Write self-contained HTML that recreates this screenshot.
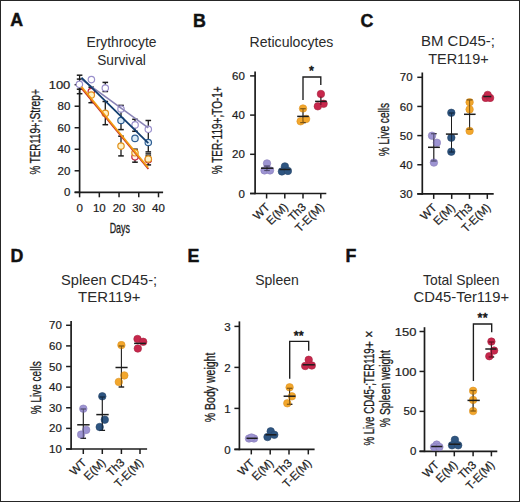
<!DOCTYPE html>
<html><head><meta charset="utf-8"><style>
html,body{margin:0;padding:0;background:#fff;}
body{width:520px;height:502px;overflow:hidden;}
svg{display:block;}
text{font-family:"Liberation Sans",sans-serif;fill:#1c1c1c;}
.h{stroke:#1c1c1c;stroke-width:0.3px;}
.l{stroke:#1c1c1c;stroke-width:0.22px;}
.s{stroke:#1c1c1c;stroke-width:0.6px;}
.b{stroke:#111;stroke-width:0.45px;fill:#111;}
.t{fill:#2a2a2a;}
</style></head><body>
<svg width="520" height="502" viewBox="0 0 520 502">
<rect x="0" y="0" width="520" height="502" fill="#fff"/>
<text x="10.20" y="25.70" font-size="17.8" text-anchor="start" font-weight="bold" class="b">A</text>
<text x="192.90" y="27.20" font-size="17.8" text-anchor="start" font-weight="bold" class="b">B</text>
<text x="360.40" y="27.20" font-size="17.8" text-anchor="start" font-weight="bold" class="b">C</text>
<text x="10.50" y="262.30" font-size="17.8" text-anchor="start" font-weight="bold" class="b">D</text>
<text x="187.50" y="262.30" font-size="17.8" text-anchor="start" font-weight="bold" class="b">E</text>
<text x="345.50" y="262.30" font-size="17.8" text-anchor="start" font-weight="bold" class="b">F</text>
<text x="121.50" y="46.70" font-size="14.2" text-anchor="middle" font-weight="normal" textLength="70" lengthAdjust="spacingAndGlyphs" class="t">Erythrocyte</text>
<text x="121.50" y="64.50" font-size="14.2" text-anchor="middle" font-weight="normal" textLength="48.7" lengthAdjust="spacingAndGlyphs" class="t">Survival</text>
<text x="291.45" y="46.70" font-size="14.2" text-anchor="middle" font-weight="normal" textLength="83.7" lengthAdjust="spacingAndGlyphs" class="t">Reticulocytes</text>
<text x="458.00" y="46.20" font-size="14.2" text-anchor="middle" font-weight="normal" textLength="74" lengthAdjust="spacingAndGlyphs" class="t">BM CD45-;</text>
<text x="458.40" y="63.50" font-size="14.2" text-anchor="middle" font-weight="normal" textLength="60.5" lengthAdjust="spacingAndGlyphs" class="t">TER119+</text>
<text x="109.10" y="284.70" font-size="14.2" text-anchor="middle" font-weight="normal" textLength="96" lengthAdjust="spacingAndGlyphs" class="t">Spleen CD45-;</text>
<text x="109.25" y="302.00" font-size="14.2" text-anchor="middle" font-weight="normal" textLength="62.3" lengthAdjust="spacingAndGlyphs" class="t">TER119+</text>
<text x="277.00" y="284.50" font-size="14.2" text-anchor="middle" font-weight="normal" textLength="43.6" lengthAdjust="spacingAndGlyphs" class="t">Spleen</text>
<text x="461.30" y="284.50" font-size="14.2" text-anchor="middle" font-weight="normal" textLength="76.6" lengthAdjust="spacingAndGlyphs" class="t">Total Spleen</text>
<text x="461.30" y="302.30" font-size="14.2" text-anchor="middle" font-weight="normal" textLength="95.6" lengthAdjust="spacingAndGlyphs" class="t">CD45-Ter119+</text>
<text class="h" transform="translate(40.1,174.4) rotate(-90)" x="0" y="0" font-size="14.3" text-anchor="start" textLength="46.2" lengthAdjust="spacingAndGlyphs">% TER119</text>
<text class="h" transform="translate(40.1,128.4) rotate(-90)" x="0" y="0" font-size="14.3" text-anchor="start" textLength="39.4" lengthAdjust="spacingAndGlyphs">+;Strep+</text>
<text class="h" transform="translate(222,130.3) rotate(-90)" x="0" y="0" font-size="14.3" text-anchor="middle" textLength="88" lengthAdjust="spacingAndGlyphs">% TER-119+;TO-1+</text>
<text class="h" transform="translate(389,129.6) rotate(-90)" x="0" y="0" font-size="14.3" text-anchor="middle" textLength="53.4" lengthAdjust="spacingAndGlyphs">% Live cells</text>
<text class="h" transform="translate(40.5,387.8) rotate(-90)" x="0" y="0" font-size="14.3" text-anchor="middle" textLength="52.9" lengthAdjust="spacingAndGlyphs">% Live cells</text>
<text class="h" transform="translate(215.4,387.4) rotate(-90)" x="0" y="0" font-size="14.3" text-anchor="middle" textLength="69.5" lengthAdjust="spacingAndGlyphs">% Body weight</text>
<text class="h" transform="translate(373.5,445.6) rotate(-90)" x="0" y="0" font-size="14.3" text-anchor="start" textLength="97.3" lengthAdjust="spacingAndGlyphs">% Live CD45-;TER119</text>
<text class="h" transform="translate(373.5,348.2) rotate(-90)" x="0" y="0" font-size="14.3" text-anchor="start" textLength="17.6" lengthAdjust="spacingAndGlyphs">+ ×</text>
<text class="h" transform="translate(390.3,388.6) rotate(-90)" x="0" y="0" font-size="14.3" text-anchor="middle" textLength="77.2" lengthAdjust="spacingAndGlyphs">% Spleen weight</text>
<line x1="79.60" y1="84.70" x2="79.60" y2="193.15" stroke="#1c1c1c" stroke-width="1.7" stroke-linecap="butt"/>
<line x1="74.60" y1="192.30" x2="163.10" y2="192.30" stroke="#1c1c1c" stroke-width="1.7" stroke-linecap="butt"/>
<line x1="74.60" y1="192.30" x2="79.60" y2="192.30" stroke="#1c1c1c" stroke-width="1.5" stroke-linecap="butt"/>
<text x="70.30" y="196.40" font-size="11.5" text-anchor="end" font-weight="normal" class="l">0</text>
<line x1="74.60" y1="170.78" x2="79.60" y2="170.78" stroke="#1c1c1c" stroke-width="1.5" stroke-linecap="butt"/>
<text x="70.30" y="174.88" font-size="11.5" text-anchor="end" font-weight="normal" class="l">20</text>
<line x1="74.60" y1="149.26" x2="79.60" y2="149.26" stroke="#1c1c1c" stroke-width="1.5" stroke-linecap="butt"/>
<text x="70.30" y="153.36" font-size="11.5" text-anchor="end" font-weight="normal" class="l">40</text>
<line x1="74.60" y1="127.74" x2="79.60" y2="127.74" stroke="#1c1c1c" stroke-width="1.5" stroke-linecap="butt"/>
<text x="70.30" y="131.84" font-size="11.5" text-anchor="end" font-weight="normal" class="l">60</text>
<line x1="74.60" y1="106.22" x2="79.60" y2="106.22" stroke="#1c1c1c" stroke-width="1.5" stroke-linecap="butt"/>
<text x="70.30" y="110.32" font-size="11.5" text-anchor="end" font-weight="normal" class="l">80</text>
<line x1="74.60" y1="84.70" x2="79.60" y2="84.70" stroke="#1c1c1c" stroke-width="1.5" stroke-linecap="butt"/>
<text x="70.30" y="88.80" font-size="11.5" text-anchor="end" font-weight="normal" textLength="21.6" lengthAdjust="spacingAndGlyphs" class="l">100</text>
<line x1="79.60" y1="192.30" x2="79.60" y2="197.30" stroke="#1c1c1c" stroke-width="1.5" stroke-linecap="butt"/>
<line x1="99.32" y1="192.30" x2="99.32" y2="197.30" stroke="#1c1c1c" stroke-width="1.5" stroke-linecap="butt"/>
<line x1="119.05" y1="192.30" x2="119.05" y2="197.30" stroke="#1c1c1c" stroke-width="1.5" stroke-linecap="butt"/>
<line x1="138.77" y1="192.30" x2="138.77" y2="197.30" stroke="#1c1c1c" stroke-width="1.5" stroke-linecap="butt"/>
<line x1="158.50" y1="192.30" x2="158.50" y2="197.30" stroke="#1c1c1c" stroke-width="1.5" stroke-linecap="butt"/>
<text x="79.60" y="212.20" font-size="11.5" text-anchor="middle" font-weight="normal" class="l">0</text>
<text x="99.32" y="212.20" font-size="11.5" text-anchor="middle" font-weight="normal" class="l">10</text>
<text x="119.05" y="212.20" font-size="11.5" text-anchor="middle" font-weight="normal" class="l">20</text>
<text x="138.77" y="212.20" font-size="11.5" text-anchor="middle" font-weight="normal" class="l">30</text>
<text x="158.50" y="212.20" font-size="11.5" text-anchor="middle" font-weight="normal" class="l">40</text>
<text class="h" transform="translate(119.8,232.6) scale(0.62,1)" font-size="14.4" text-anchor="middle">Days</text>
<line x1="79.60" y1="75.20" x2="79.60" y2="93.70" stroke="#1c1c1c" stroke-width="1.3" stroke-linecap="butt"/>
<line x1="76.80" y1="75.20" x2="82.40" y2="75.20" stroke="#1c1c1c" stroke-width="1.5" stroke-linecap="butt"/>
<line x1="76.80" y1="93.70" x2="82.40" y2="93.70" stroke="#1c1c1c" stroke-width="1.5" stroke-linecap="butt"/>
<line x1="76.80" y1="79.10" x2="82.40" y2="79.10" stroke="#1c1c1c" stroke-width="1.5" stroke-linecap="butt"/>
<line x1="76.80" y1="89.20" x2="82.40" y2="89.20" stroke="#1c1c1c" stroke-width="1.5" stroke-linecap="butt"/>
<line x1="91.20" y1="87.20" x2="91.20" y2="102.70" stroke="#1c1c1c" stroke-width="1.3" stroke-linecap="butt"/>
<line x1="88.40" y1="87.20" x2="94.00" y2="87.20" stroke="#1c1c1c" stroke-width="1.5" stroke-linecap="butt"/>
<line x1="88.40" y1="102.70" x2="94.00" y2="102.70" stroke="#1c1c1c" stroke-width="1.5" stroke-linecap="butt"/>
<line x1="105.30" y1="82.40" x2="105.30" y2="91.50" stroke="#1c1c1c" stroke-width="1.3" stroke-linecap="butt"/>
<line x1="102.50" y1="82.40" x2="108.10" y2="82.40" stroke="#1c1c1c" stroke-width="1.5" stroke-linecap="butt"/>
<line x1="102.50" y1="91.50" x2="108.10" y2="91.50" stroke="#1c1c1c" stroke-width="1.5" stroke-linecap="butt"/>
<line x1="105.30" y1="101.50" x2="105.30" y2="124.70" stroke="#1c1c1c" stroke-width="1.3" stroke-linecap="butt"/>
<line x1="102.50" y1="101.50" x2="108.10" y2="101.50" stroke="#1c1c1c" stroke-width="1.5" stroke-linecap="butt"/>
<line x1="102.50" y1="124.70" x2="108.10" y2="124.70" stroke="#1c1c1c" stroke-width="1.5" stroke-linecap="butt"/>
<line x1="121.00" y1="105.40" x2="121.00" y2="129.60" stroke="#1c1c1c" stroke-width="1.3" stroke-linecap="butt"/>
<line x1="118.20" y1="105.40" x2="123.80" y2="105.40" stroke="#1c1c1c" stroke-width="1.5" stroke-linecap="butt"/>
<line x1="118.20" y1="129.60" x2="123.80" y2="129.60" stroke="#1c1c1c" stroke-width="1.5" stroke-linecap="butt"/>
<line x1="121.00" y1="136.20" x2="121.00" y2="155.90" stroke="#1c1c1c" stroke-width="1.3" stroke-linecap="butt"/>
<line x1="118.20" y1="136.20" x2="123.80" y2="136.20" stroke="#1c1c1c" stroke-width="1.5" stroke-linecap="butt"/>
<line x1="118.20" y1="155.90" x2="123.80" y2="155.90" stroke="#1c1c1c" stroke-width="1.5" stroke-linecap="butt"/>
<line x1="135.00" y1="119.30" x2="135.00" y2="131.30" stroke="#1c1c1c" stroke-width="1.3" stroke-linecap="butt"/>
<line x1="132.20" y1="119.30" x2="137.80" y2="119.30" stroke="#1c1c1c" stroke-width="1.5" stroke-linecap="butt"/>
<line x1="132.20" y1="131.30" x2="137.80" y2="131.30" stroke="#1c1c1c" stroke-width="1.5" stroke-linecap="butt"/>
<line x1="135.00" y1="149.20" x2="135.00" y2="162.20" stroke="#1c1c1c" stroke-width="1.3" stroke-linecap="butt"/>
<line x1="132.20" y1="149.20" x2="137.80" y2="149.20" stroke="#1c1c1c" stroke-width="1.5" stroke-linecap="butt"/>
<line x1="132.20" y1="162.20" x2="137.80" y2="162.20" stroke="#1c1c1c" stroke-width="1.5" stroke-linecap="butt"/>
<line x1="148.30" y1="120.50" x2="148.30" y2="151.90" stroke="#1c1c1c" stroke-width="1.3" stroke-linecap="butt"/>
<line x1="145.50" y1="120.50" x2="151.10" y2="120.50" stroke="#1c1c1c" stroke-width="1.5" stroke-linecap="butt"/>
<line x1="145.50" y1="151.90" x2="151.10" y2="151.90" stroke="#1c1c1c" stroke-width="1.5" stroke-linecap="butt"/>
<line x1="145.50" y1="153.90" x2="151.10" y2="153.90" stroke="#1c1c1c" stroke-width="1.5" stroke-linecap="butt"/>
<line x1="148.30" y1="155.90" x2="148.30" y2="164.90" stroke="#1c1c1c" stroke-width="1.3" stroke-linecap="butt"/>
<line x1="145.50" y1="155.90" x2="151.10" y2="155.90" stroke="#1c1c1c" stroke-width="1.5" stroke-linecap="butt"/>
<line x1="145.50" y1="164.90" x2="151.10" y2="164.90" stroke="#1c1c1c" stroke-width="1.5" stroke-linecap="butt"/>
<circle cx="79.40" cy="84.30" r="3.2" fill="#ffffff" stroke="#9a90cc" stroke-width="1.2"/>
<circle cx="91.30" cy="91.50" r="3.2" fill="#fff4f0" stroke="#c02040" stroke-width="1.2"/>
<circle cx="91.30" cy="95.00" r="3.2" fill="#fff2c8" stroke="#e0901c" stroke-width="1.2"/>
<circle cx="91.40" cy="79.60" r="3.2" fill="#ffffff" stroke="#9a90cc" stroke-width="1.2"/>
<circle cx="105.30" cy="88.00" r="3.2" fill="#ffffff" stroke="#9a90cc" stroke-width="1.2"/>
<circle cx="105.30" cy="113.40" r="3.2" fill="#fff2c8" stroke="#e0901c" stroke-width="1.2"/>
<circle cx="121.00" cy="109.00" r="3.2" fill="#ffffff" stroke="#9a90cc" stroke-width="1.2"/>
<circle cx="121.00" cy="120.50" r="3.2" fill="#dcecf8" stroke="#2e5e92" stroke-width="1.2"/>
<circle cx="121.00" cy="146.10" r="3.2" fill="#fff2c8" stroke="#e0901c" stroke-width="1.2"/>
<circle cx="135.00" cy="156.80" r="3.2" fill="#fff4f0" stroke="#c02040" stroke-width="1.2"/>
<circle cx="135.00" cy="152.80" r="3.2" fill="#fff2c8" stroke="#e0901c" stroke-width="1.2"/>
<circle cx="135.10" cy="124.90" r="3.2" fill="#ffffff" stroke="#9a90cc" stroke-width="1.2"/>
<circle cx="135.00" cy="138.40" r="3.2" fill="#dcecf8" stroke="#2e5e92" stroke-width="1.2"/>
<circle cx="148.30" cy="159.80" r="3.2" fill="#fff4f0" stroke="#c02040" stroke-width="1.2"/>
<circle cx="148.30" cy="159.00" r="3.2" fill="#fff2c8" stroke="#e0901c" stroke-width="1.2"/>
<circle cx="148.30" cy="129.30" r="3.2" fill="#ffffff" stroke="#9a90cc" stroke-width="1.2"/>
<circle cx="148.30" cy="142.50" r="3.2" fill="#dcecf8" stroke="#2e5e92" stroke-width="1.2"/>
<line x1="81.50" y1="88.20" x2="148.40" y2="169.00" stroke="#c8302a" stroke-width="1.7" stroke-linecap="butt"/>
<line x1="81.50" y1="86.70" x2="148.00" y2="167.50" stroke="#f29c10" stroke-width="1.8" stroke-linecap="butt"/>
<line x1="81.50" y1="79.30" x2="148.30" y2="127.80" stroke="#8a84b6" stroke-width="1.6" stroke-linecap="butt"/>
<line x1="81.50" y1="77.60" x2="148.30" y2="143.20" stroke="#123e70" stroke-width="1.8" stroke-linecap="butt"/>
<line x1="255.10" y1="71.50" x2="255.10" y2="194.35" stroke="#1c1c1c" stroke-width="1.7" stroke-linecap="butt"/>
<line x1="250.10" y1="193.50" x2="326.30" y2="193.50" stroke="#1c1c1c" stroke-width="1.7" stroke-linecap="butt"/>
<line x1="250.10" y1="193.50" x2="255.10" y2="193.50" stroke="#1c1c1c" stroke-width="1.5" stroke-linecap="butt"/>
<text x="244.80" y="197.60" font-size="11.5" text-anchor="end" font-weight="normal" class="l">0</text>
<line x1="250.10" y1="154.30" x2="255.10" y2="154.30" stroke="#1c1c1c" stroke-width="1.5" stroke-linecap="butt"/>
<text x="244.80" y="158.40" font-size="11.5" text-anchor="end" font-weight="normal" class="l">20</text>
<line x1="250.10" y1="115.10" x2="255.10" y2="115.10" stroke="#1c1c1c" stroke-width="1.5" stroke-linecap="butt"/>
<text x="244.80" y="119.20" font-size="11.5" text-anchor="end" font-weight="normal" class="l">40</text>
<line x1="250.10" y1="75.90" x2="255.10" y2="75.90" stroke="#1c1c1c" stroke-width="1.5" stroke-linecap="butt"/>
<text x="244.80" y="80.00" font-size="11.5" text-anchor="end" font-weight="normal" class="l">60</text>
<line x1="266.60" y1="193.50" x2="266.60" y2="198.50" stroke="#1c1c1c" stroke-width="1.5" stroke-linecap="butt"/>
<line x1="284.80" y1="193.50" x2="284.80" y2="198.50" stroke="#1c1c1c" stroke-width="1.5" stroke-linecap="butt"/>
<line x1="303.00" y1="193.50" x2="303.00" y2="198.50" stroke="#1c1c1c" stroke-width="1.5" stroke-linecap="butt"/>
<line x1="320.80" y1="193.50" x2="320.80" y2="198.50" stroke="#1c1c1c" stroke-width="1.5" stroke-linecap="butt"/>
<text class="l" transform="translate(270.50,207.80) rotate(-45)" font-size="11.5" text-anchor="end">WT</text>
<text class="l" transform="translate(288.70,207.80) rotate(-45)" font-size="11.5" text-anchor="end">E(M)</text>
<text class="l" transform="translate(306.90,207.80) rotate(-45)" font-size="11.5" text-anchor="end">Th3</text>
<text class="l" transform="translate(324.70,207.80) rotate(-45)" font-size="11.5" text-anchor="end">T-E(M)</text>
<g opacity="1">
<line x1="267.00" y1="166.00" x2="267.00" y2="170.50" stroke="#1c1c1c" stroke-width="1.0" stroke-linecap="butt"/>
<line x1="264.25" y1="166.00" x2="269.75" y2="166.00" stroke="#1c1c1c" stroke-width="1.2" stroke-linecap="butt"/>
<line x1="264.25" y1="170.50" x2="269.75" y2="170.50" stroke="#1c1c1c" stroke-width="1.2" stroke-linecap="butt"/>
</g>
<g opacity="0.88">
<circle cx="267.00" cy="163.40" r="3.75" fill="#9086cc" stroke="#7a6cb0" stroke-width="0.6"/>
<circle cx="264.50" cy="170.40" r="3.75" fill="#9086cc" stroke="#7a6cb0" stroke-width="0.6"/>
<circle cx="270.00" cy="170.40" r="3.75" fill="#9086cc" stroke="#7a6cb0" stroke-width="0.6"/>
</g>
<g opacity="0.45">
<line x1="267.00" y1="166.00" x2="267.00" y2="170.50" stroke="#1c1c1c" stroke-width="1.0" stroke-linecap="butt"/>
<line x1="264.25" y1="166.00" x2="269.75" y2="166.00" stroke="#1c1c1c" stroke-width="1.2" stroke-linecap="butt"/>
<line x1="264.25" y1="170.50" x2="269.75" y2="170.50" stroke="#1c1c1c" stroke-width="1.2" stroke-linecap="butt"/>
</g>
<line x1="261.00" y1="168.20" x2="273.40" y2="168.20" stroke="#1c1c1c" stroke-width="1.5" stroke-linecap="butt"/>
<g opacity="0.88">
<circle cx="284.90" cy="166.40" r="3.75" fill="#123e70" stroke="#0c2f58" stroke-width="0.6"/>
<circle cx="281.90" cy="171.40" r="3.75" fill="#123e70" stroke="#0c2f58" stroke-width="0.6"/>
<circle cx="287.90" cy="170.90" r="3.75" fill="#123e70" stroke="#0c2f58" stroke-width="0.6"/>
</g>
<line x1="279.50" y1="169.50" x2="290.50" y2="169.50" stroke="#1c1c1c" stroke-width="1.5" stroke-linecap="butt"/>
<g opacity="1">
<line x1="303.00" y1="108.70" x2="303.00" y2="122.60" stroke="#1c1c1c" stroke-width="1.0" stroke-linecap="butt"/>
<line x1="300.25" y1="108.70" x2="305.75" y2="108.70" stroke="#1c1c1c" stroke-width="1.2" stroke-linecap="butt"/>
<line x1="300.25" y1="122.60" x2="305.75" y2="122.60" stroke="#1c1c1c" stroke-width="1.2" stroke-linecap="butt"/>
</g>
<g opacity="0.88">
<circle cx="303.00" cy="108.50" r="3.75" fill="#f29c10" stroke="#d88406" stroke-width="0.6"/>
<circle cx="300.60" cy="121.30" r="3.75" fill="#f29c10" stroke="#d88406" stroke-width="0.6"/>
<circle cx="306.10" cy="118.90" r="3.75" fill="#f29c10" stroke="#d88406" stroke-width="0.6"/>
</g>
<g opacity="0.45">
<line x1="303.00" y1="108.70" x2="303.00" y2="122.60" stroke="#1c1c1c" stroke-width="1.0" stroke-linecap="butt"/>
<line x1="300.25" y1="108.70" x2="305.75" y2="108.70" stroke="#1c1c1c" stroke-width="1.2" stroke-linecap="butt"/>
<line x1="300.25" y1="122.60" x2="305.75" y2="122.60" stroke="#1c1c1c" stroke-width="1.2" stroke-linecap="butt"/>
</g>
<line x1="297.20" y1="116.40" x2="308.80" y2="116.40" stroke="#1c1c1c" stroke-width="1.5" stroke-linecap="butt"/>
<g opacity="1">
<line x1="320.90" y1="96.50" x2="320.90" y2="105.00" stroke="#1c1c1c" stroke-width="1.0" stroke-linecap="butt"/>
</g>
<g opacity="0.88">
<circle cx="320.90" cy="94.00" r="3.75" fill="#c00a34" stroke="#9c0828" stroke-width="0.6"/>
<circle cx="317.80" cy="106.30" r="3.75" fill="#c00a34" stroke="#9c0828" stroke-width="0.6"/>
<circle cx="323.60" cy="103.80" r="3.75" fill="#c00a34" stroke="#9c0828" stroke-width="0.6"/>
</g>
<g opacity="0.45">
<line x1="320.90" y1="96.50" x2="320.90" y2="105.00" stroke="#1c1c1c" stroke-width="1.0" stroke-linecap="butt"/>
</g>
<line x1="315.10" y1="101.40" x2="326.70" y2="101.40" stroke="#1c1c1c" stroke-width="1.5" stroke-linecap="butt"/>
<polyline points="303,100 303,77 320.8,77 320.8,85" fill="none" stroke="#1c1c1c" stroke-width="1.35"/>
<text x="311.50" y="75.10" font-size="12.6" text-anchor="middle" font-weight="normal" class="s">*</text>
<line x1="422.30" y1="72.50" x2="422.30" y2="194.75" stroke="#1c1c1c" stroke-width="1.7" stroke-linecap="butt"/>
<line x1="417.30" y1="193.90" x2="493.70" y2="193.90" stroke="#1c1c1c" stroke-width="1.7" stroke-linecap="butt"/>
<line x1="417.30" y1="193.90" x2="422.30" y2="193.90" stroke="#1c1c1c" stroke-width="1.5" stroke-linecap="butt"/>
<text x="412.60" y="198.00" font-size="11.5" text-anchor="end" font-weight="normal" class="l">30</text>
<line x1="417.30" y1="164.75" x2="422.30" y2="164.75" stroke="#1c1c1c" stroke-width="1.5" stroke-linecap="butt"/>
<text x="412.60" y="168.85" font-size="11.5" text-anchor="end" font-weight="normal" class="l">40</text>
<line x1="417.30" y1="135.60" x2="422.30" y2="135.60" stroke="#1c1c1c" stroke-width="1.5" stroke-linecap="butt"/>
<text x="412.60" y="139.70" font-size="11.5" text-anchor="end" font-weight="normal" class="l">50</text>
<line x1="417.30" y1="106.45" x2="422.30" y2="106.45" stroke="#1c1c1c" stroke-width="1.5" stroke-linecap="butt"/>
<text x="412.60" y="110.55" font-size="11.5" text-anchor="end" font-weight="normal" class="l">60</text>
<line x1="417.30" y1="77.30" x2="422.30" y2="77.30" stroke="#1c1c1c" stroke-width="1.5" stroke-linecap="butt"/>
<text x="412.60" y="81.40" font-size="11.5" text-anchor="end" font-weight="normal" class="l">70</text>
<line x1="433.70" y1="193.90" x2="433.70" y2="198.90" stroke="#1c1c1c" stroke-width="1.5" stroke-linecap="butt"/>
<line x1="451.70" y1="193.90" x2="451.70" y2="198.90" stroke="#1c1c1c" stroke-width="1.5" stroke-linecap="butt"/>
<line x1="469.50" y1="193.90" x2="469.50" y2="198.90" stroke="#1c1c1c" stroke-width="1.5" stroke-linecap="butt"/>
<line x1="487.30" y1="193.90" x2="487.30" y2="198.90" stroke="#1c1c1c" stroke-width="1.5" stroke-linecap="butt"/>
<text class="l" transform="translate(437.60,208.20) rotate(-45)" font-size="11.5" text-anchor="end">WT</text>
<text class="l" transform="translate(455.60,208.20) rotate(-45)" font-size="11.5" text-anchor="end">E(M)</text>
<text class="l" transform="translate(473.40,208.20) rotate(-45)" font-size="11.5" text-anchor="end">Th3</text>
<text class="l" transform="translate(491.20,208.20) rotate(-45)" font-size="11.5" text-anchor="end">T-E(M)</text>
<g opacity="1">
<line x1="433.80" y1="133.70" x2="433.80" y2="161.00" stroke="#1c1c1c" stroke-width="1.0" stroke-linecap="butt"/>
<line x1="431.05" y1="133.70" x2="436.55" y2="133.70" stroke="#1c1c1c" stroke-width="1.2" stroke-linecap="butt"/>
<line x1="431.05" y1="161.00" x2="436.55" y2="161.00" stroke="#1c1c1c" stroke-width="1.2" stroke-linecap="butt"/>
</g>
<g opacity="0.88">
<circle cx="432.00" cy="135.70" r="3.75" fill="#9086cc" stroke="#7a6cb0" stroke-width="0.6"/>
<circle cx="436.90" cy="142.70" r="3.75" fill="#9086cc" stroke="#7a6cb0" stroke-width="0.6"/>
<circle cx="433.90" cy="162.60" r="3.75" fill="#9086cc" stroke="#7a6cb0" stroke-width="0.6"/>
</g>
<g opacity="0.45">
<line x1="433.80" y1="133.70" x2="433.80" y2="161.00" stroke="#1c1c1c" stroke-width="1.0" stroke-linecap="butt"/>
<line x1="431.05" y1="133.70" x2="436.55" y2="133.70" stroke="#1c1c1c" stroke-width="1.2" stroke-linecap="butt"/>
<line x1="431.05" y1="161.00" x2="436.55" y2="161.00" stroke="#1c1c1c" stroke-width="1.2" stroke-linecap="butt"/>
</g>
<line x1="428.00" y1="147.30" x2="439.90" y2="147.30" stroke="#1c1c1c" stroke-width="1.5" stroke-linecap="butt"/>
<g opacity="1">
<line x1="451.50" y1="113.00" x2="451.50" y2="152.00" stroke="#1c1c1c" stroke-width="1.0" stroke-linecap="butt"/>
<line x1="448.75" y1="113.00" x2="454.25" y2="113.00" stroke="#1c1c1c" stroke-width="1.2" stroke-linecap="butt"/>
<line x1="448.75" y1="152.00" x2="454.25" y2="152.00" stroke="#1c1c1c" stroke-width="1.2" stroke-linecap="butt"/>
</g>
<g opacity="0.88">
<circle cx="451.30" cy="112.80" r="3.75" fill="#123e70" stroke="#0c2f58" stroke-width="0.6"/>
<circle cx="451.30" cy="137.70" r="3.75" fill="#123e70" stroke="#0c2f58" stroke-width="0.6"/>
<circle cx="451.30" cy="151.70" r="3.75" fill="#123e70" stroke="#0c2f58" stroke-width="0.6"/>
</g>
<g opacity="0.45">
<line x1="451.50" y1="113.00" x2="451.50" y2="152.00" stroke="#1c1c1c" stroke-width="1.0" stroke-linecap="butt"/>
<line x1="448.75" y1="113.00" x2="454.25" y2="113.00" stroke="#1c1c1c" stroke-width="1.2" stroke-linecap="butt"/>
<line x1="448.75" y1="152.00" x2="454.25" y2="152.00" stroke="#1c1c1c" stroke-width="1.2" stroke-linecap="butt"/>
</g>
<line x1="445.90" y1="134.10" x2="457.80" y2="134.10" stroke="#1c1c1c" stroke-width="1.5" stroke-linecap="butt"/>
<g opacity="1">
<line x1="469.60" y1="99.90" x2="469.60" y2="129.30" stroke="#1c1c1c" stroke-width="1.0" stroke-linecap="butt"/>
<line x1="466.85" y1="99.90" x2="472.35" y2="99.90" stroke="#1c1c1c" stroke-width="1.2" stroke-linecap="butt"/>
<line x1="466.85" y1="129.30" x2="472.35" y2="129.30" stroke="#1c1c1c" stroke-width="1.2" stroke-linecap="butt"/>
</g>
<g opacity="0.88">
<circle cx="469.60" cy="102.20" r="3.75" fill="#f29c10" stroke="#d88406" stroke-width="0.6"/>
<circle cx="469.60" cy="109.40" r="3.75" fill="#f29c10" stroke="#d88406" stroke-width="0.6"/>
<circle cx="469.60" cy="130.90" r="3.75" fill="#f29c10" stroke="#d88406" stroke-width="0.6"/>
</g>
<g opacity="0.45">
<line x1="469.60" y1="99.90" x2="469.60" y2="129.30" stroke="#1c1c1c" stroke-width="1.0" stroke-linecap="butt"/>
<line x1="466.85" y1="99.90" x2="472.35" y2="99.90" stroke="#1c1c1c" stroke-width="1.2" stroke-linecap="butt"/>
<line x1="466.85" y1="129.30" x2="472.35" y2="129.30" stroke="#1c1c1c" stroke-width="1.2" stroke-linecap="butt"/>
</g>
<line x1="464.00" y1="114.30" x2="475.60" y2="114.30" stroke="#1c1c1c" stroke-width="1.5" stroke-linecap="butt"/>
<g opacity="0.88">
<circle cx="485.70" cy="97.90" r="3.75" fill="#c00a34" stroke="#9c0828" stroke-width="0.6"/>
<circle cx="490.10" cy="97.90" r="3.75" fill="#c00a34" stroke="#9c0828" stroke-width="0.6"/>
<circle cx="487.70" cy="94.90" r="3.75" fill="#c00a34" stroke="#9c0828" stroke-width="0.6"/>
</g>
<line x1="483.30" y1="96.50" x2="491.30" y2="96.50" stroke="#1c1c1c" stroke-width="1.5" stroke-linecap="butt"/>
<line x1="71.10" y1="320.90" x2="71.10" y2="449.85" stroke="#1c1c1c" stroke-width="1.7" stroke-linecap="butt"/>
<line x1="66.10" y1="449.00" x2="147.10" y2="449.00" stroke="#1c1c1c" stroke-width="1.7" stroke-linecap="butt"/>
<line x1="66.10" y1="449.00" x2="71.10" y2="449.00" stroke="#1c1c1c" stroke-width="1.5" stroke-linecap="butt"/>
<text x="61.90" y="453.10" font-size="11.5" text-anchor="end" font-weight="normal" class="l">10</text>
<line x1="66.10" y1="428.38" x2="71.10" y2="428.38" stroke="#1c1c1c" stroke-width="1.5" stroke-linecap="butt"/>
<text x="61.90" y="432.48" font-size="11.5" text-anchor="end" font-weight="normal" class="l">20</text>
<line x1="66.10" y1="407.76" x2="71.10" y2="407.76" stroke="#1c1c1c" stroke-width="1.5" stroke-linecap="butt"/>
<text x="61.90" y="411.86" font-size="11.5" text-anchor="end" font-weight="normal" class="l">30</text>
<line x1="66.10" y1="387.14" x2="71.10" y2="387.14" stroke="#1c1c1c" stroke-width="1.5" stroke-linecap="butt"/>
<text x="61.90" y="391.24" font-size="11.5" text-anchor="end" font-weight="normal" class="l">40</text>
<line x1="66.10" y1="366.52" x2="71.10" y2="366.52" stroke="#1c1c1c" stroke-width="1.5" stroke-linecap="butt"/>
<text x="61.90" y="370.62" font-size="11.5" text-anchor="end" font-weight="normal" class="l">50</text>
<line x1="66.10" y1="345.90" x2="71.10" y2="345.90" stroke="#1c1c1c" stroke-width="1.5" stroke-linecap="butt"/>
<text x="61.90" y="350.00" font-size="11.5" text-anchor="end" font-weight="normal" class="l">60</text>
<line x1="66.10" y1="325.28" x2="71.10" y2="325.28" stroke="#1c1c1c" stroke-width="1.5" stroke-linecap="butt"/>
<text x="61.90" y="329.38" font-size="11.5" text-anchor="end" font-weight="normal" class="l">70</text>
<line x1="83.30" y1="449.00" x2="83.30" y2="454.00" stroke="#1c1c1c" stroke-width="1.5" stroke-linecap="butt"/>
<line x1="102.30" y1="449.00" x2="102.30" y2="454.00" stroke="#1c1c1c" stroke-width="1.5" stroke-linecap="butt"/>
<line x1="121.40" y1="449.00" x2="121.40" y2="454.00" stroke="#1c1c1c" stroke-width="1.5" stroke-linecap="butt"/>
<line x1="140.00" y1="449.00" x2="140.00" y2="454.00" stroke="#1c1c1c" stroke-width="1.5" stroke-linecap="butt"/>
<text class="l" transform="translate(87.20,463.30) rotate(-45)" font-size="11.5" text-anchor="end">WT</text>
<text class="l" transform="translate(106.20,463.30) rotate(-45)" font-size="11.5" text-anchor="end">E(M)</text>
<text class="l" transform="translate(125.30,463.30) rotate(-45)" font-size="11.5" text-anchor="end">Th3</text>
<text class="l" transform="translate(143.90,463.30) rotate(-45)" font-size="11.5" text-anchor="end">T-E(M)</text>
<g opacity="1">
<line x1="83.30" y1="409.00" x2="83.30" y2="438.30" stroke="#1c1c1c" stroke-width="1.0" stroke-linecap="butt"/>
<line x1="80.55" y1="409.00" x2="86.05" y2="409.00" stroke="#1c1c1c" stroke-width="1.2" stroke-linecap="butt"/>
<line x1="80.55" y1="438.30" x2="86.05" y2="438.30" stroke="#1c1c1c" stroke-width="1.2" stroke-linecap="butt"/>
</g>
<g opacity="0.88">
<circle cx="83.30" cy="408.70" r="3.75" fill="#9086cc" stroke="#7a6cb0" stroke-width="0.6"/>
<circle cx="86.20" cy="429.90" r="3.75" fill="#9086cc" stroke="#7a6cb0" stroke-width="0.6"/>
<circle cx="81.10" cy="434.60" r="3.75" fill="#9086cc" stroke="#7a6cb0" stroke-width="0.6"/>
</g>
<g opacity="0.45">
<line x1="83.30" y1="409.00" x2="83.30" y2="438.30" stroke="#1c1c1c" stroke-width="1.0" stroke-linecap="butt"/>
<line x1="80.55" y1="409.00" x2="86.05" y2="409.00" stroke="#1c1c1c" stroke-width="1.2" stroke-linecap="butt"/>
<line x1="80.55" y1="438.30" x2="86.05" y2="438.30" stroke="#1c1c1c" stroke-width="1.2" stroke-linecap="butt"/>
</g>
<line x1="77.20" y1="424.80" x2="89.60" y2="424.80" stroke="#1c1c1c" stroke-width="1.5" stroke-linecap="butt"/>
<g opacity="1">
<line x1="102.30" y1="397.00" x2="102.30" y2="430.40" stroke="#1c1c1c" stroke-width="1.0" stroke-linecap="butt"/>
<line x1="99.55" y1="397.00" x2="105.05" y2="397.00" stroke="#1c1c1c" stroke-width="1.2" stroke-linecap="butt"/>
<line x1="99.55" y1="430.40" x2="105.05" y2="430.40" stroke="#1c1c1c" stroke-width="1.2" stroke-linecap="butt"/>
</g>
<g opacity="0.88">
<circle cx="102.30" cy="396.30" r="3.75" fill="#123e70" stroke="#0c2f58" stroke-width="0.6"/>
<circle cx="104.80" cy="419.70" r="3.75" fill="#123e70" stroke="#0c2f58" stroke-width="0.6"/>
<circle cx="99.70" cy="427.00" r="3.75" fill="#123e70" stroke="#0c2f58" stroke-width="0.6"/>
</g>
<g opacity="0.45">
<line x1="102.30" y1="397.00" x2="102.30" y2="430.40" stroke="#1c1c1c" stroke-width="1.0" stroke-linecap="butt"/>
<line x1="99.55" y1="397.00" x2="105.05" y2="397.00" stroke="#1c1c1c" stroke-width="1.2" stroke-linecap="butt"/>
<line x1="99.55" y1="430.40" x2="105.05" y2="430.40" stroke="#1c1c1c" stroke-width="1.2" stroke-linecap="butt"/>
</g>
<line x1="96.30" y1="414.60" x2="108.70" y2="414.60" stroke="#1c1c1c" stroke-width="1.5" stroke-linecap="butt"/>
<g opacity="1">
<line x1="121.40" y1="346.00" x2="121.40" y2="387.00" stroke="#1c1c1c" stroke-width="1.0" stroke-linecap="butt"/>
<line x1="118.65" y1="346.00" x2="124.15" y2="346.00" stroke="#1c1c1c" stroke-width="1.2" stroke-linecap="butt"/>
<line x1="118.65" y1="387.00" x2="124.15" y2="387.00" stroke="#1c1c1c" stroke-width="1.2" stroke-linecap="butt"/>
</g>
<g opacity="0.88">
<circle cx="121.40" cy="345.10" r="3.75" fill="#f29c10" stroke="#d88406" stroke-width="0.6"/>
<circle cx="124.30" cy="375.40" r="3.75" fill="#f29c10" stroke="#d88406" stroke-width="0.6"/>
<circle cx="118.80" cy="381.90" r="3.75" fill="#f29c10" stroke="#d88406" stroke-width="0.6"/>
</g>
<g opacity="0.45">
<line x1="121.40" y1="346.00" x2="121.40" y2="387.00" stroke="#1c1c1c" stroke-width="1.0" stroke-linecap="butt"/>
<line x1="118.65" y1="346.00" x2="124.15" y2="346.00" stroke="#1c1c1c" stroke-width="1.2" stroke-linecap="butt"/>
<line x1="118.65" y1="387.00" x2="124.15" y2="387.00" stroke="#1c1c1c" stroke-width="1.2" stroke-linecap="butt"/>
</g>
<line x1="115.50" y1="367.50" x2="127.60" y2="367.50" stroke="#1c1c1c" stroke-width="1.5" stroke-linecap="butt"/>
<g opacity="0.88">
<circle cx="137.50" cy="339.00" r="3.75" fill="#c00a34" stroke="#9c0828" stroke-width="0.6"/>
<circle cx="143.20" cy="341.80" r="3.75" fill="#c00a34" stroke="#9c0828" stroke-width="0.6"/>
<circle cx="137.80" cy="348.50" r="3.75" fill="#c00a34" stroke="#9c0828" stroke-width="0.6"/>
</g>
<line x1="134.10" y1="343.40" x2="145.90" y2="343.40" stroke="#1c1c1c" stroke-width="1.5" stroke-linecap="butt"/>
<line x1="239.40" y1="321.40" x2="239.40" y2="450.25" stroke="#1c1c1c" stroke-width="1.7" stroke-linecap="butt"/>
<line x1="234.40" y1="449.40" x2="314.60" y2="449.40" stroke="#1c1c1c" stroke-width="1.7" stroke-linecap="butt"/>
<line x1="234.40" y1="449.40" x2="239.40" y2="449.40" stroke="#1c1c1c" stroke-width="1.5" stroke-linecap="butt"/>
<text x="230.60" y="453.50" font-size="11.5" text-anchor="end" font-weight="normal" class="l">0</text>
<line x1="234.40" y1="408.40" x2="239.40" y2="408.40" stroke="#1c1c1c" stroke-width="1.5" stroke-linecap="butt"/>
<text x="230.60" y="412.50" font-size="11.5" text-anchor="end" font-weight="normal" class="l">1</text>
<line x1="234.40" y1="367.40" x2="239.40" y2="367.40" stroke="#1c1c1c" stroke-width="1.5" stroke-linecap="butt"/>
<text x="230.60" y="371.50" font-size="11.5" text-anchor="end" font-weight="normal" class="l">2</text>
<line x1="234.40" y1="326.40" x2="239.40" y2="326.40" stroke="#1c1c1c" stroke-width="1.5" stroke-linecap="butt"/>
<text x="230.60" y="330.50" font-size="11.5" text-anchor="end" font-weight="normal" class="l">3</text>
<line x1="251.30" y1="449.40" x2="251.30" y2="454.40" stroke="#1c1c1c" stroke-width="1.5" stroke-linecap="butt"/>
<line x1="270.20" y1="449.40" x2="270.20" y2="454.40" stroke="#1c1c1c" stroke-width="1.5" stroke-linecap="butt"/>
<line x1="289.00" y1="449.40" x2="289.00" y2="454.40" stroke="#1c1c1c" stroke-width="1.5" stroke-linecap="butt"/>
<line x1="308.30" y1="449.40" x2="308.30" y2="454.40" stroke="#1c1c1c" stroke-width="1.5" stroke-linecap="butt"/>
<text class="l" transform="translate(255.20,463.70) rotate(-45)" font-size="11.5" text-anchor="end">WT</text>
<text class="l" transform="translate(274.10,463.70) rotate(-45)" font-size="11.5" text-anchor="end">E(M)</text>
<text class="l" transform="translate(292.90,463.70) rotate(-45)" font-size="11.5" text-anchor="end">Th3</text>
<text class="l" transform="translate(312.20,463.70) rotate(-45)" font-size="11.5" text-anchor="end">T-E(M)</text>
<g opacity="0.88">
<circle cx="249.00" cy="438.50" r="3.75" fill="#9086cc" stroke="#7a6cb0" stroke-width="0.6"/>
<circle cx="254.00" cy="438.50" r="3.75" fill="#9086cc" stroke="#7a6cb0" stroke-width="0.6"/>
<circle cx="251.50" cy="437.50" r="3.75" fill="#9086cc" stroke="#7a6cb0" stroke-width="0.6"/>
</g>
<line x1="246.50" y1="438.30" x2="257.60" y2="438.30" stroke="#1c1c1c" stroke-width="1.5" stroke-linecap="butt"/>
<g opacity="0.88">
<circle cx="270.70" cy="431.30" r="3.75" fill="#123e70" stroke="#0c2f58" stroke-width="0.6"/>
<circle cx="267.50" cy="437.00" r="3.75" fill="#123e70" stroke="#0c2f58" stroke-width="0.6"/>
<circle cx="274.30" cy="434.80" r="3.75" fill="#123e70" stroke="#0c2f58" stroke-width="0.6"/>
</g>
<line x1="265.50" y1="434.80" x2="276.50" y2="434.80" stroke="#1c1c1c" stroke-width="1.5" stroke-linecap="butt"/>
<g opacity="1">
<line x1="289.60" y1="388.30" x2="289.60" y2="404.30" stroke="#1c1c1c" stroke-width="1.0" stroke-linecap="butt"/>
<line x1="286.85" y1="388.30" x2="292.35" y2="388.30" stroke="#1c1c1c" stroke-width="1.2" stroke-linecap="butt"/>
<line x1="286.85" y1="404.30" x2="292.35" y2="404.30" stroke="#1c1c1c" stroke-width="1.2" stroke-linecap="butt"/>
</g>
<g opacity="0.88">
<circle cx="289.60" cy="387.30" r="3.75" fill="#f29c10" stroke="#d88406" stroke-width="0.6"/>
<circle cx="291.90" cy="396.30" r="3.75" fill="#f29c10" stroke="#d88406" stroke-width="0.6"/>
<circle cx="287.30" cy="403.30" r="3.75" fill="#f29c10" stroke="#d88406" stroke-width="0.6"/>
</g>
<g opacity="0.45">
<line x1="289.60" y1="388.30" x2="289.60" y2="404.30" stroke="#1c1c1c" stroke-width="1.0" stroke-linecap="butt"/>
<line x1="286.85" y1="388.30" x2="292.35" y2="388.30" stroke="#1c1c1c" stroke-width="1.2" stroke-linecap="butt"/>
<line x1="286.85" y1="404.30" x2="292.35" y2="404.30" stroke="#1c1c1c" stroke-width="1.2" stroke-linecap="butt"/>
</g>
<line x1="283.60" y1="396.20" x2="295.50" y2="396.20" stroke="#1c1c1c" stroke-width="1.5" stroke-linecap="butt"/>
<g opacity="0.88">
<circle cx="308.70" cy="359.80" r="3.75" fill="#c00a34" stroke="#9c0828" stroke-width="0.6"/>
<circle cx="305.20" cy="366.00" r="3.75" fill="#c00a34" stroke="#9c0828" stroke-width="0.6"/>
<circle cx="311.80" cy="365.50" r="3.75" fill="#c00a34" stroke="#9c0828" stroke-width="0.6"/>
</g>
<line x1="302.60" y1="364.80" x2="314.80" y2="364.80" stroke="#1c1c1c" stroke-width="1.5" stroke-linecap="butt"/>
<polyline points="289.7,378.8 289.7,341.3 308.7,341.3 308.7,350.8" fill="none" stroke="#1c1c1c" stroke-width="1.35"/>
<text x="296.10" y="339.60" font-size="12.6" text-anchor="middle" font-weight="normal" class="s">*</text>
<text x="301.30" y="339.60" font-size="12.6" text-anchor="middle" font-weight="normal" class="s">*</text>
<line x1="424.50" y1="327.20" x2="424.50" y2="452.15" stroke="#1c1c1c" stroke-width="1.7" stroke-linecap="butt"/>
<line x1="419.50" y1="451.30" x2="497.30" y2="451.30" stroke="#1c1c1c" stroke-width="1.7" stroke-linecap="butt"/>
<line x1="419.50" y1="451.30" x2="424.50" y2="451.30" stroke="#1c1c1c" stroke-width="1.5" stroke-linecap="butt"/>
<text x="416.40" y="455.40" font-size="11.5" text-anchor="end" font-weight="normal" class="l">0</text>
<line x1="419.50" y1="411.37" x2="424.50" y2="411.37" stroke="#1c1c1c" stroke-width="1.5" stroke-linecap="butt"/>
<text x="416.40" y="415.47" font-size="11.5" text-anchor="end" font-weight="normal" class="l">50</text>
<line x1="419.50" y1="371.44" x2="424.50" y2="371.44" stroke="#1c1c1c" stroke-width="1.5" stroke-linecap="butt"/>
<text x="416.40" y="375.54" font-size="11.5" text-anchor="end" font-weight="normal" textLength="21.6" lengthAdjust="spacingAndGlyphs" class="l">100</text>
<line x1="419.50" y1="331.51" x2="424.50" y2="331.51" stroke="#1c1c1c" stroke-width="1.5" stroke-linecap="butt"/>
<text x="416.40" y="335.61" font-size="11.5" text-anchor="end" font-weight="normal" textLength="21.6" lengthAdjust="spacingAndGlyphs" class="l">150</text>
<line x1="435.90" y1="451.30" x2="435.90" y2="456.30" stroke="#1c1c1c" stroke-width="1.5" stroke-linecap="butt"/>
<line x1="454.30" y1="451.30" x2="454.30" y2="456.30" stroke="#1c1c1c" stroke-width="1.5" stroke-linecap="butt"/>
<line x1="473.10" y1="451.30" x2="473.10" y2="456.30" stroke="#1c1c1c" stroke-width="1.5" stroke-linecap="butt"/>
<line x1="491.40" y1="451.30" x2="491.40" y2="456.30" stroke="#1c1c1c" stroke-width="1.5" stroke-linecap="butt"/>
<text class="l" transform="translate(439.80,465.60) rotate(-45)" font-size="11.5" text-anchor="end">WT</text>
<text class="l" transform="translate(458.20,465.60) rotate(-45)" font-size="11.5" text-anchor="end">E(M)</text>
<text class="l" transform="translate(477.00,465.60) rotate(-45)" font-size="11.5" text-anchor="end">Th3</text>
<text class="l" transform="translate(495.30,465.60) rotate(-45)" font-size="11.5" text-anchor="end">T-E(M)</text>
<g opacity="0.88">
<circle cx="436.70" cy="444.60" r="3.75" fill="#9086cc" stroke="#7a6cb0" stroke-width="0.6"/>
<circle cx="434.00" cy="447.00" r="3.75" fill="#9086cc" stroke="#7a6cb0" stroke-width="0.6"/>
<circle cx="439.40" cy="447.00" r="3.75" fill="#9086cc" stroke="#7a6cb0" stroke-width="0.6"/>
</g>
<line x1="431.20" y1="446.50" x2="442.30" y2="446.50" stroke="#1c1c1c" stroke-width="1.5" stroke-linecap="butt"/>
<g opacity="0.88">
<circle cx="454.90" cy="439.80" r="3.75" fill="#123e70" stroke="#0c2f58" stroke-width="0.6"/>
<circle cx="452.00" cy="445.30" r="3.75" fill="#123e70" stroke="#0c2f58" stroke-width="0.6"/>
<circle cx="458.20" cy="445.30" r="3.75" fill="#123e70" stroke="#0c2f58" stroke-width="0.6"/>
</g>
<line x1="449.00" y1="444.20" x2="460.50" y2="444.20" stroke="#1c1c1c" stroke-width="1.5" stroke-linecap="butt"/>
<g opacity="1">
<line x1="473.10" y1="390.50" x2="473.10" y2="411.00" stroke="#1c1c1c" stroke-width="1.0" stroke-linecap="butt"/>
<line x1="470.35" y1="390.50" x2="475.85" y2="390.50" stroke="#1c1c1c" stroke-width="1.2" stroke-linecap="butt"/>
<line x1="470.35" y1="411.00" x2="475.85" y2="411.00" stroke="#1c1c1c" stroke-width="1.2" stroke-linecap="butt"/>
</g>
<g opacity="0.88">
<circle cx="473.10" cy="390.80" r="3.75" fill="#f29c10" stroke="#d88406" stroke-width="0.6"/>
<circle cx="473.10" cy="399.90" r="3.75" fill="#f29c10" stroke="#d88406" stroke-width="0.6"/>
<circle cx="473.10" cy="411.10" r="3.75" fill="#f29c10" stroke="#d88406" stroke-width="0.6"/>
</g>
<g opacity="0.45">
<line x1="473.10" y1="390.50" x2="473.10" y2="411.00" stroke="#1c1c1c" stroke-width="1.0" stroke-linecap="butt"/>
<line x1="470.35" y1="390.50" x2="475.85" y2="390.50" stroke="#1c1c1c" stroke-width="1.2" stroke-linecap="butt"/>
<line x1="470.35" y1="411.00" x2="475.85" y2="411.00" stroke="#1c1c1c" stroke-width="1.2" stroke-linecap="butt"/>
</g>
<line x1="467.50" y1="400.40" x2="479.80" y2="400.40" stroke="#1c1c1c" stroke-width="1.5" stroke-linecap="butt"/>
<g opacity="1">
<line x1="491.40" y1="342.00" x2="491.40" y2="357.00" stroke="#1c1c1c" stroke-width="1.0" stroke-linecap="butt"/>
<line x1="488.65" y1="342.00" x2="494.15" y2="342.00" stroke="#1c1c1c" stroke-width="1.2" stroke-linecap="butt"/>
<line x1="488.65" y1="357.00" x2="494.15" y2="357.00" stroke="#1c1c1c" stroke-width="1.2" stroke-linecap="butt"/>
</g>
<g opacity="0.88">
<circle cx="491.40" cy="341.60" r="3.75" fill="#c00a34" stroke="#9c0828" stroke-width="0.6"/>
<circle cx="494.10" cy="350.60" r="3.75" fill="#c00a34" stroke="#9c0828" stroke-width="0.6"/>
<circle cx="489.30" cy="356.20" r="3.75" fill="#c00a34" stroke="#9c0828" stroke-width="0.6"/>
</g>
<g opacity="0.45">
<line x1="491.40" y1="342.00" x2="491.40" y2="357.00" stroke="#1c1c1c" stroke-width="1.0" stroke-linecap="butt"/>
<line x1="488.65" y1="342.00" x2="494.15" y2="342.00" stroke="#1c1c1c" stroke-width="1.2" stroke-linecap="butt"/>
<line x1="488.65" y1="357.00" x2="494.15" y2="357.00" stroke="#1c1c1c" stroke-width="1.2" stroke-linecap="butt"/>
</g>
<line x1="485.30" y1="349.00" x2="496.50" y2="349.00" stroke="#1c1c1c" stroke-width="1.5" stroke-linecap="butt"/>
<polyline points="473.4,380.9 473.4,324 491.7,324 491.7,332.3" fill="none" stroke="#1c1c1c" stroke-width="1.35"/>
<text x="479.90" y="322.40" font-size="12.6" text-anchor="middle" font-weight="normal" class="s">*</text>
<text x="485.10" y="322.40" font-size="12.6" text-anchor="middle" font-weight="normal" class="s">*</text>
<rect x="0.5" y="0.5" width="519" height="501" fill="none" stroke="#262626" stroke-width="1"/>
</svg>
</body></html>
